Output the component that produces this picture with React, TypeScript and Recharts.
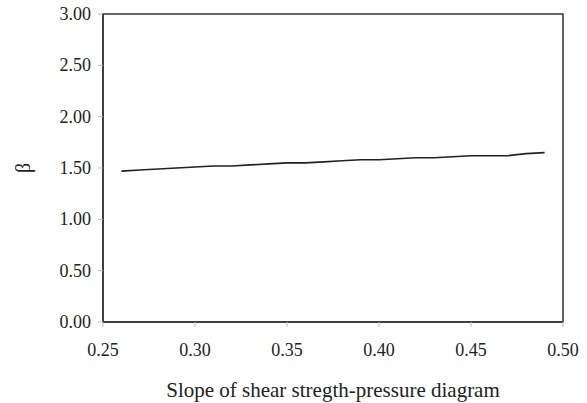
import React from "react";
import { LineChart, Line, XAxis, YAxis, ReferenceArea } from "recharts";

const slopes = [0.26, 0.27, 0.28, 0.29, 0.3, 0.31, 0.32, 0.33, 0.34, 0.35, 0.36, 0.37, 0.38, 0.39, 0.4, 0.41, 0.42, 0.43, 0.44, 0.45, 0.46, 0.47, 0.48, 0.49];
const betas = [1.47, 1.48, 1.49, 1.5, 1.51, 1.52, 1.52, 1.53, 1.54, 1.55, 1.55, 1.56, 1.57, 1.58, 1.58, 1.59, 1.6, 1.6, 1.61, 1.62, 1.62, 1.62, 1.64, 1.65];
const xTicks = [0.25, 0.3, 0.35, 0.4, 0.45, 0.5];
const yTicks = [0, 0.5, 1, 1.5, 2, 2.5, 3];

const data = slopes.map((s, i) => ({ slope: s, beta: betas[i] }));

const font = "'Liberation Serif', 'Times New Roman', serif";

const XTick = (props: any) => {
  const { x, y, payload } = props;
  return (
    <text x={x} y={y} dy={14} textAnchor="middle" fill="#222" fontSize={18} fontFamily={font}>
      {Number(payload.value).toFixed(2)}
    </text>
  );
};

const YTick = (props: any) => {
  const { x, y, payload } = props;
  return (
    <text x={x} y={y} dy={6} textAnchor="end" fill="#222" fontSize={18} fontFamily={font}>
      {Number(payload.value).toFixed(2)}
    </text>
  );
};

const BetaLabel = (props: any) => {
  const vb = props.viewBox || {};
  const cy = (vb.y ?? 14) + (vb.height ?? 308) / 2;
  return (
    <text x={30} y={cy} transform={`rotate(-90, 30, ${cy})`} textAnchor="middle" fill="#222" fontSize={20} fontFamily={font}>
      β
    </text>
  );
};

export default function App() {
  return (
    <div style={{ position: "absolute", left: 0, top: 0, background: "#fff", fontFamily: font }}>
      <LineChart width={587} height={403} data={data} margin={{ top: 14, right: 24, bottom: 0, left: 0 }} style={{ fontFamily: font }}>
        <ReferenceArea x1={0.25} x2={0.5} y1={0} y2={3} fill="none" stroke="#333" strokeWidth={1.5} ifOverflow="visible" />
        <XAxis
          dataKey="slope"
          type="number"
          domain={[0.25, 0.5]}
          ticks={xTicks}
          tick={<XTick />}
          tickLine={{ stroke: "#bbb" }}
          tickSize={5}
          tickMargin={15}
          axisLine={{ stroke: "#333", strokeWidth: 1.5 }}
          height={81}
          label={{ value: "Slope of shear stregth-pressure diagram", position: "insideBottom", offset: 6, style: { fill: "#222", fontSize: 21, fontFamily: font } }}
        />
        <YAxis
          type="number"
          domain={[0, 3]}
          ticks={yTicks}
          tick={<YTick />}
          tickLine={{ stroke: "#bbb" }}
          tickSize={5}
          tickMargin={7}
          axisLine={{ stroke: "#333", strokeWidth: 1.5 }}
          width={103}
          label={<BetaLabel />}
        />
        <Line dataKey="beta" type="linear" stroke="#222" strokeWidth={1.6} dot={false} isAnimationActive={false} />
      </LineChart>
    </div>
  );
}
